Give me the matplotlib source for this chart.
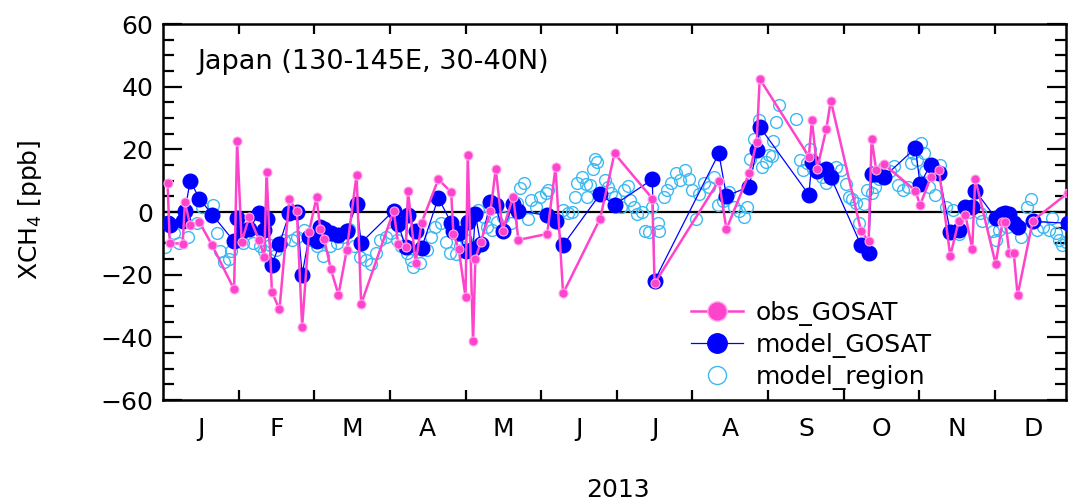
import matplotlib
matplotlib.use("Agg")
import matplotlib.pyplot as plt
from matplotlib.lines import Line2D
from matplotlib.ticker import FixedLocator, MultipleLocator

plt.rcParams['font.family'] = ['DejaVu Sans']

# x positions in months since 1 Jan 2013 (0 = Jan 1, 1 = Feb 1, ...)
gosat_x = [0.06, 0.09, 0.26, 0.29, 0.36, 0.48, 0.65, 0.94, 0.98, 1.04, 1.14, 1.27, 1.34, 1.37,
           1.44, 1.54, 1.67, 1.77, 1.84, 1.93, 2.03, 2.08, 2.13, 2.22, 2.32, 2.43, 2.56, 2.62,
           3.05, 3.11, 3.21, 3.24, 3.34, 3.42, 3.64, 3.81, 3.84, 3.91, 4.00, 4.03, 4.10, 4.13,
           4.20, 4.33, 4.40, 4.49, 4.63, 4.70, 5.08, 5.19, 5.29, 5.78, 5.97, 6.47, 6.50, 7.35,
           7.45, 7.75, 7.85, 7.89, 8.54, 8.58, 8.65, 8.77, 8.83, 9.23, 9.33, 9.37, 9.43, 9.53,
           9.95, 10.01, 10.15, 10.26, 10.41, 10.52, 10.61, 10.70, 10.74, 11.01, 11.10, 11.14,
           11.19, 11.25, 11.30, 11.50, 11.97]
obs_gosat = [9.4, -9.8, -10.2, 3.2, -4.3, -3.2, -10.6, -24.7, 22.6, -9.6, -1.5, -8.9, -14.3, 12.8,
             -25.5, -31.1, 4.0, 0.2, -36.6, -6.4, 4.7, -5.5, -8.5, -18.3, -26.4, -12.1, 11.9, -29.4,
             0.4, -10.2, -11.3, 6.8, -16.4, -3.4, 10.4, 6.4, -7.0, -11.9, -27.0, 18.1, -41.3, -15.1,
             -9.6, 0.2, 13.8, -6.0, 4.9, -8.9, -7.0, 14.3, -26.0, -2.1, 18.7, 4.3, -22.8, 10.0,
             -5.5, 12.3, 22.3, 42.5, 17.7, 29.4, 13.8, 26.4, 35.5, -6.0, -9.4, 23.4, 13.4, 15.3,
             6.8, 2.1, 11.1, 13.4, -14.0, -3.0, -1.1, -11.7, 10.6, -16.6, -3.2, -3.2,
             -13.0, -13.2, -26.6, -2.8, 6.2]
model_gosat = [-3.6, -4.0, -2.8, 0.4, 10.0, 4.3, -0.8, -9.4, -1.9, -6.0, -5.5, -0.4, -5.7, -2.3,
               -17.0, -10.2, -0.4, 0.0, -20.0, -7.9, -9.4, -4.7, -5.5, -6.6, -7.2, -6.2, 2.6, -9.8,
               0.4, -3.8, -11.3, -0.8, -6.2, -11.5, 4.5, -3.4, -6.0, -6.6, -12.4, -3.2, -11.9, -0.6,
               -10.2, 3.2, 2.1, -6.2, 2.6, 0.4, -1.1, -2.8, -10.6, 5.7, 2.3, 10.4, -21.9, 18.7,
               5.1, 8.1, 19.8, 27.2, 5.5, 16.0, 13.2, 13.6, 11.1, -10.6, -13.0, 12.1, 12.1, 11.1,
               20.4, 8.9, 15.1, 12.3, -6.4, -5.7, 1.7, 1.5, 6.8, -1.9, -0.5, -0.2,
               -0.6, -3.6, -4.7, -3.0, -3.6]

region_x = [0.02, 0.14, 0.21, 0.33, 0.45, 0.52, 0.66, 0.72, 0.76, 0.80, 0.87, 0.90, 1.06, 1.19,
            1.28, 1.33, 1.42, 1.49, 1.60, 1.71, 1.77, 1.86, 1.94, 2.03, 2.12, 2.21, 2.30, 2.38,
            2.46, 2.52, 2.61, 2.69, 2.75, 2.81, 2.87, 2.95, 3.02, 3.10, 3.15, 3.22, 3.28, 3.31,
            3.40, 3.49, 3.55, 3.60, 3.67, 3.74, 3.80, 3.87, 3.93, 4.00, 4.10, 4.17, 4.24, 4.29,
            4.35, 4.41, 4.50, 4.60, 4.68, 4.72, 4.77, 4.83, 4.87, 4.93, 4.99, 5.06, 5.09, 5.29,
            5.36, 5.41, 5.45, 5.48, 5.54, 5.59, 5.60, 5.65, 5.68, 5.71, 5.74, 5.84, 5.89, 5.93,
            5.98, 6.05, 6.10, 6.15, 6.18, 6.23, 6.27, 6.34, 6.37, 6.43, 6.47, 6.54, 6.56, 6.62,
            6.66, 6.72, 6.78, 6.84, 6.90, 6.96, 7.00, 7.05, 7.09, 7.16, 7.22, 7.29, 7.34, 7.40,
            7.49, 7.55, 7.62, 7.68, 7.72, 7.76, 7.81, 7.88, 7.92, 7.97, 8.01, 8.05, 8.07, 8.11,
            8.15, 8.37, 8.42, 8.46, 8.51, 8.55, 8.60, 8.72, 8.76, 8.85, 8.90, 8.96, 9.03, 9.07,
            9.11, 9.16, 9.20, 9.27, 9.31, 9.37, 9.42, 9.47, 9.53, 9.61, 9.67, 9.72, 9.79, 9.85,
            9.89, 9.92, 9.97, 10.02, 10.06, 10.08, 10.13, 10.21, 10.28, 10.35, 10.45, 10.52,
            10.66, 10.80, 10.83, 10.97, 11.02, 11.06, 11.16, 11.35, 11.42, 11.48, 11.56, 11.64,
            11.71, 11.76, 11.81, 11.85, 11.89, 11.94]
model_region = [-11.3, -6.8, -9.8, -7.9, -3.6, 1.7, 2.1, -6.6, -12.4, -16.0, -14.9, -12.4, -9.8, -9.8,
                -11.0, -12.4, -10.5, -12.1, -8.9, -8.9, -7.9, -5.7, -8.9, -11.0, -14.0, -11.0, -9.8, -7.9,
                -5.3, -11.0, -14.3, -15.3, -16.6, -13.2, -8.9, -7.9, -6.8, -8.9, -11.0, -13.2, -15.3, -17.5,
                -16.4, -12.1, -7.9, -4.7, -3.6, -9.6, -13.2, -13.4, -11.0, -8.9, -0.4, 0.6, -1.5, -4.7,
                -5.7, -3.2, -1.5, -3.6, 2.8, 7.7, 9.2, -2.1, 3.8, 1.7, 4.9, 6.0, 7.0, 0.6,
                -0.4, 0.0, 4.9, 9.2, 11.3, 8.9, 4.9, 8.5, 13.8, 16.8, 16.0, 10.2, 8.1, 6.0,
                4.9, 1.7, 7.0, 8.3, 3.8, 1.7, -0.6, 0.0, -6.0, -6.4, 1.7, -3.4, -6.0, 4.7,
                7.0, 9.2, 12.3, 10.2, 13.4, 10.4, 7.0, -2.3, 5.7, 9.2, 7.9, 11.1, 2.3, 3.4,
                6.4, 1.7, 0.4, -1.5, 1.7, 17.0, 23.4, 29.4, 14.5, 16.0, 18.3, 17.9, 22.6, 28.7,
                34.0, 29.6, 16.6, 13.4, 15.5, 20.2, 13.8, 11.3, 9.2, 10.6, 14.5, 13.4, 8.9, 4.9,
                4.0, 2.8, -3.6, 2.6, 7.0, 6.0, 8.1, 10.6, 14.5, 13.2, 14.7, 8.7, 7.0, 8.1,
                15.5, 18.7, 16.6, 21.9, 18.7, 13.0, 8.1, 5.5, 14.9, 1.7, 0.6, -7.0,
                0.0, -0.4, -3.0, -6.0, -8.9, -5.7, -4.7, -7.9, 1.7, 4.0, -5.7, -4.7,
                -5.7, -1.9, -6.8, -8.9, -10.6, -9.6]

month_labels = ['J', 'F', 'M', 'A', 'M', 'J', 'J', 'A', 'S', 'O', 'N', 'D']
year_label = '2013'
region_label = 'Japan (130-145E, 30-40N)'

PINK = '#ff44cc'
BLUE = '#0000ff'
CYAN = '#3cb9f2'

fig = plt.figure(figsize=(10.68, 5.04), dpi=100)
ax = fig.add_axes([163/1068, 1-400/504, (1066-163)/1068, (400-24)/504])

ax.axhline(0, color='black', lw=1.6, zorder=1)
ax.plot(region_x, model_region, linestyle='none', marker='o', markersize=8.5,
        markerfacecolor='none', markeredgecolor=CYAN, markeredgewidth=1.0, zorder=2)
ax.plot(gosat_x, model_gosat, color=BLUE, lw=0.9, marker='o', markersize=10.5,
        markerfacecolor=BLUE, markeredgecolor=BLUE, zorder=3)
ax.plot(gosat_x, obs_gosat, color=PINK, lw=1.8, marker='o', markersize=6.5,
        markerfacecolor=PINK, markeredgecolor='#ffaaee', markeredgewidth=0.8, zorder=4)

ax.set_xlim(0, 11.94)
ax.set_ylim(-60, 60)

ax.yaxis.set_major_locator(MultipleLocator(20))
ax.yaxis.set_minor_locator(MultipleLocator(5))
ax.xaxis.set_major_locator(FixedLocator(list(range(1, 12))))
ax.xaxis.set_minor_locator(FixedLocator([i + 0.5 for i in range(12)]))
ax.set_xticklabels([], minor=False)
ax.set_xticklabels(month_labels, minor=True)

ax.tick_params(axis='y', which='major', direction='in', length=14, width=1.6,
               labelsize=18, pad=7, right=True)
ax.tick_params(axis='y', which='minor', direction='in', length=8, width=1.6, right=True)
ax.tick_params(axis='x', which='major', direction='in', length=7, width=1.6, top=True)
ax.tick_params(axis='x', which='minor', length=0, labelsize=18, pad=12)
for s in ax.spines.values():
    s.set_linewidth(1.8)

ax.text(0.038, 0.9, region_label, transform=ax.transAxes, fontsize=19.5,
        ha='left', va='center')

fig.text(30/1068, 1-210/504, r'XCH$_4$ [ppb]', rotation=90, fontsize=18,
         ha='center', va='center')
fig.text(618/1068, 1-490/504, year_label, fontsize=18, ha='center', va='center')

handles = [
    Line2D([], [], color=PINK, lw=1.8, marker='o', markersize=14,
           markerfacecolor=PINK, markeredgecolor='#ffaaee'),
    Line2D([], [], color=BLUE, lw=0.9, marker='o', markersize=14,
           markerfacecolor=BLUE, markeredgecolor=BLUE),
    Line2D([], [], linestyle='none', marker='o', markersize=13,
           markerfacecolor='white', markeredgecolor=CYAN, markeredgewidth=1.0),
]
ax.legend(handles, ['obs_GOSAT', 'model_GOSAT', 'model_region'],
          loc='upper left', bbox_to_anchor=(678/1068, 1-288/504),
          bbox_transform=fig.transFigure, frameon=False, fontsize=18,
          handlelength=2.1, handletextpad=0.5, labelspacing=0.28, borderpad=0)

fig.savefig('out.png', dpi=100)
